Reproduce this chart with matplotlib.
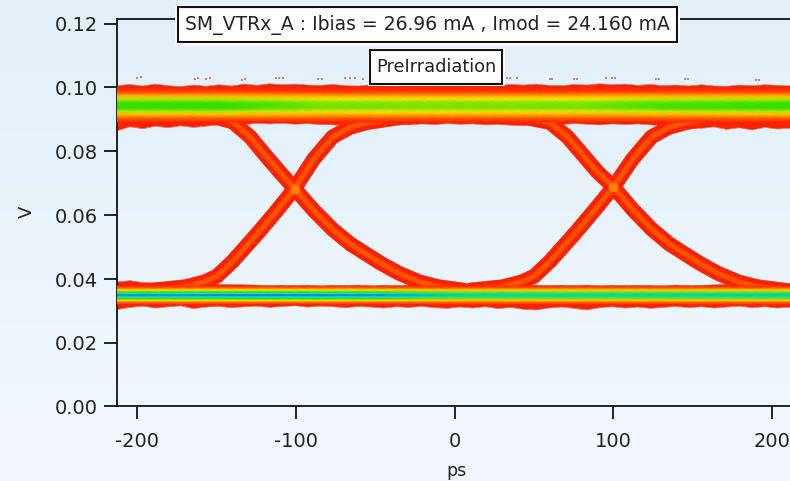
import numpy as np
import matplotlib
matplotlib.use("Agg")
import matplotlib.pyplot as plt
from matplotlib.colors import LinearSegmentedColormap
from matplotlib.patches import Rectangle

# values (ps, V)
rail_x = [-213, -205, -197, -189, -181, -173, -165, -157, -149, -141, -133, -125, -117, -109, -101, -93,
          -85, -77, -69, -61, -53, -45, -37, -29, -21, -13, -5, 3, 11, 19, 27, 35, 43, 51, 59, 67, 75, 83,
          91, 99, 107, 115, 123, 131, 139, 147, 155, 163, 171, 179, 187, 195, 203, 212]
top_upper = [.1007, .1011, .1006, .1012, .1007, .1004, .1009, .1005, .1010, .1006, .1012, .1008, .1013, .1010,
             .1012, .1009, .1008, .1011, .1007, .1006, .1010, .1007, .1006, .1011, .1008, .1012, .1009, .1011,
             .1007, .1012, .1008, .1011, .1009, .1012, .1008, .1007, .1011, .1009, .1013, .1010, .1012, .1008,
             .1011, .1007, .1009, .1006, .1010, .1006, .1005, .1009, .1007, .1010, .1008, .1006]
top_lower = [.0866, .0878, .0872, .0880, .0875, .0881, .0876, .0880, .0884, .0888, .0885, .0889, .0887, .0889,
             .0886, .0888, .0885, .0884, .0882, .0880, .0882, .0884, .0886, .0884, .0887, .0885, .0888, .0886,
             .0887, .0884, .0885, .0883, .0881, .0884, .0887, .0885, .0888, .0886, .0884, .0887, .0885, .0887,
             .0884, .0882, .0880, .0876, .0873, .0878, .0870, .0875, .0868, .0876, .0871, .0874]
bot_upper = [.0392, .0396, .0390, .0389, .0385, .0388, .0384, .0386, .0385, .0384, .0383, .0382, .0380, .0381,
             .0380, .0381, .0379, .0381, .0380, .0382, .0379, .0381, .0380, .0382, .0379, .0381, .0380, .0384,
             .0380, .0385, .0381, .0384, .0380, .0382, .0380, .0381, .0380, .0382, .0379, .0381, .0380, .0381,
             .0380, .0379, .0382, .0380, .0381, .0383, .0385, .0382, .0386, .0383, .0387, .0384]
bot_lower = [.0305, .0312, .0316, .0310, .0314, .0317, .0308, .0313, .0315, .0311, .0314, .0316, .0312, .0315,
             .0317, .0313, .0316, .0314, .0311, .0315, .0313, .0310, .0314, .0312, .0315, .0311, .0309, .0313,
             .0310, .0314, .0308, .0312, .0306, .0304, .0310, .0313, .0309, .0304, .0311, .0314, .0310, .0313,
             .0309, .0312, .0315, .0311, .0314, .0310, .0313, .0316, .0311, .0314, .0310, .0313]

# rail profile: colour level across each rail
top_v = [.1000, .0990, .0981, .0973, .0963, .0952, .0935, .0925, .0915, .0905, .0892]
top_c = [0, .03, .13, .27, .43, .54, .56, .44, .30, .14, 0]
bot_v = [.0320, .0328, .0333, .0338, .0345, .0350, .0354, .0360, .0366, .0371, .0377]
bot_c = [0, .16, .38, .60, .80, .95, .80, .60, .40, .18, 0]
top_gain_x = [-213, -150, -80, 0, 80, 130, 212]
top_gain = [1.08, 1.08, .96, .95, .96, 1.04, 1.08]
bot_gain_x = [-213, -120, -50, 0, 120, 212]
bot_gain = [.96, 1.0, .98, .86, .86, .88]

# traces of the eye
fall1_x = [-190, -170, -155, -140, -129, -119, -110, -101, -89, -77, -66, -55, -47, -35, -22, -10, 5]
fall1_y = [.0925, .0922, .0912, .0892, .0845, .0785, .0733, .0683, .0615, .0555, .0510, .0475, .0450, .0417,
           .0390, .0375, .0365]
rise1_x = [-190, -170, -158, -150, -140, -131, -123, -112, -101, -89, -77, -66, -55, -35, -10]
rise1_y = [.0365, .0375, .0390, .0408, .0455, .0505, .0550, .0615, .0683, .0775, .0845, .0875, .0890, .0905,
           .0915]
fall2_x = [10, 30, 45, 60, 71, 81, 90, 100, 112, 124, 135, 146, 154, 166, 179, 191, 212]
fall2_y = [.0915, .0912, .0905, .0890, .0845, .0787, .0735, .0688, .0618, .0556, .0510, .0475, .0450, .0417,
           .0390, .0375, .0362]
rise2_x = [10, 30, 42, 50, 60, 69, 77, 88, 100, 112, 124, 135, 146, 166, 191, 212]
rise2_y = [.0365, .0375, .0390, .0408, .0455, .0505, .0550, .0615, .0688, .0775, .0845, .0875, .0890, .0905,
           .0915, .0918]
cross_x = [-101, 100]
cross_y = [.0683, .0688]

speck_x = [-200, -198, -164, -162, -157, -154, -134, -132, -113, -111, -108, -86, -84, -69, -66, -63, -58, -36,
           -34, -18, -15, 5, 7, 29, 33, 35, 39, 60, 61, 75, 77, 95, 99, 101, 127, 129, 145, 147, 190, 192]
speck_y = [.1030, .1032, .1026, .1028, .1026, .1028, .1024, .1026, .1030, .1030, .1028, .1026, .1026, .1030,
           .1030, .1030, .1026, .1028, .1028, .1024, .1024, .1028, .1028, .1030, .1030, .1030, .1030, .1026,
           .1026, .1026, .1026, .1028, .1028, .1028, .1026, .1026, .1026, .1026, .1024, .1024]

xticks = [-200, -100, 0, 100, 200]
xtick_labels = ["-200", "-100", "0", "100", "200"]
yticks = [0.00, 0.02, 0.04, 0.06, 0.08, 0.10, 0.12]
title1 = "SM_VTRx_A : Ibias = 26.96 mA , Imod = 24.160 mA"
title2 = "PreIrradiation"

W, H = 790, 481
RED, ORANGE, FRINGE = "#ff2200", "#ff5200", "#d08078"
eye_cmap = LinearSegmentedColormap.from_list(
    "eye", [RED, "#ff8a00", "#ffe600", "#2ee000", "#00e0e0", "#0038e0"])

plt.rcParams["font.family"] = "DejaVu Sans"
fig = plt.figure(figsize=((W + .2) / 100, (H + .2) / 100), dpi=100)

# soft vertical background gradient
bg = fig.add_axes([0, 0, 1, 1], zorder=0)
bg.imshow(np.array([[0.], [1.]]), aspect="auto", interpolation="bicubic",
          cmap=LinearSegmentedColormap.from_list("bg", ["#e3f0fa", "#eff8ff"]))
bg.axis("off")

ax = fig.add_axes([116.5 / W, (H - 406.5) / H, (W - 116.5) / W, 387.5 / H], zorder=1)
ax.patch.set_alpha(0)
ax.set_xlim(-213.2, 211.4)
ax.set_ylim(0, 0.1215)

# red body of the rails with rough edges
ax.fill_between(rail_x, top_lower, top_upper, color=RED, lw=0.5, ec=FRINGE, zorder=2)
ax.fill_between(rail_x, bot_lower, bot_upper, color=RED, lw=0.5, ec=FRINGE, zorder=2)
ax.plot(speck_x, speck_y, ls="", marker="s", ms=1.6, mew=0, color=FRINGE, zorder=2)

# eye traces, widest layer first
traces = [(fall1_x, fall1_y), (rise1_x, rise1_y), (fall2_x, fall2_y), (rise2_x, rise2_y)]
for lw, col, z in [(10.8, FRINGE, 1.5), (10.4, RED, 3), (3.8, ORANGE, 3.2)]:
    for tx, ty in traces:
        ax.plot(tx, ty, color=col, lw=lw, solid_joinstyle="round", solid_capstyle="round", zorder=z)
ax.plot(cross_x, cross_y, ls="", marker="o", ms=7, mew=0, color="#ff8a00", alpha=.85, zorder=3.4)

# coloured core of the rails
top_z = np.outer(top_c, np.interp(rail_x, top_gain_x, top_gain))
bot_z = np.outer(bot_c, np.interp(rail_x, bot_gain_x, bot_gain))
ax.pcolormesh(rail_x, top_v, top_z, shading="gouraud", cmap=eye_cmap, vmin=0, vmax=1, zorder=4)
ax.pcolormesh(rail_x, bot_v, bot_z, shading="gouraud", cmap=eye_cmap, vmin=0, vmax=1, zorder=4)

ax.set_xticks(xticks)
ax.set_xticklabels(xtick_labels)
ax.set_yticks(yticks)
ax.set_yticklabels([f"{v:.2f}" for v in yticks])
ax.tick_params(length=9.5, width=1.3, labelsize=14, pad=4, color="#111111", labelcolor="#222222")
ax.tick_params(axis="x", pad=9)
ax.spines["right"].set_visible(False)
for s in ["left", "bottom", "top"]:
    ax.spines[s].set_linewidth(1.3)
    ax.spines[s].set_color("#111111")
fig.text(27 / W, 1 - 212 / H, "V", rotation=90, ha="center", va="center", fontsize=13, color="#222222")
fig.text(456 / W, 1 - 471 / H, "ps", ha="center", va="center", fontsize=12.5, color="#222222")


def box(x0, y0, x1, y1, text, size):
    # annotation box given in pixels from the top left
    for pad, ec, fc, lw in [(2.5, "white", "white", 0), (0, "#111111", "white", 1.5)]:
        fig.add_artist(Rectangle(((x0 - pad) / W, 1 - (y1 + pad) / H), (x1 - x0 + 2 * pad) / W,
                                 (y1 - y0 + 2 * pad) / H, transform=fig.transFigure,
                                 fc=fc, ec=ec, lw=lw, zorder=5))
    fig.text((x0 + x1) / 2 / W, 1 - (y0 + y1) / 2 / H, text, ha="center", va="center",
             fontsize=size, color="#222222", zorder=6)


box(177.5, 7.5, 677, 42.5, title1, 13.5)
box(370, 50.5, 502, 84, title2, 12.8)

fig.savefig("out.png", dpi=100)
